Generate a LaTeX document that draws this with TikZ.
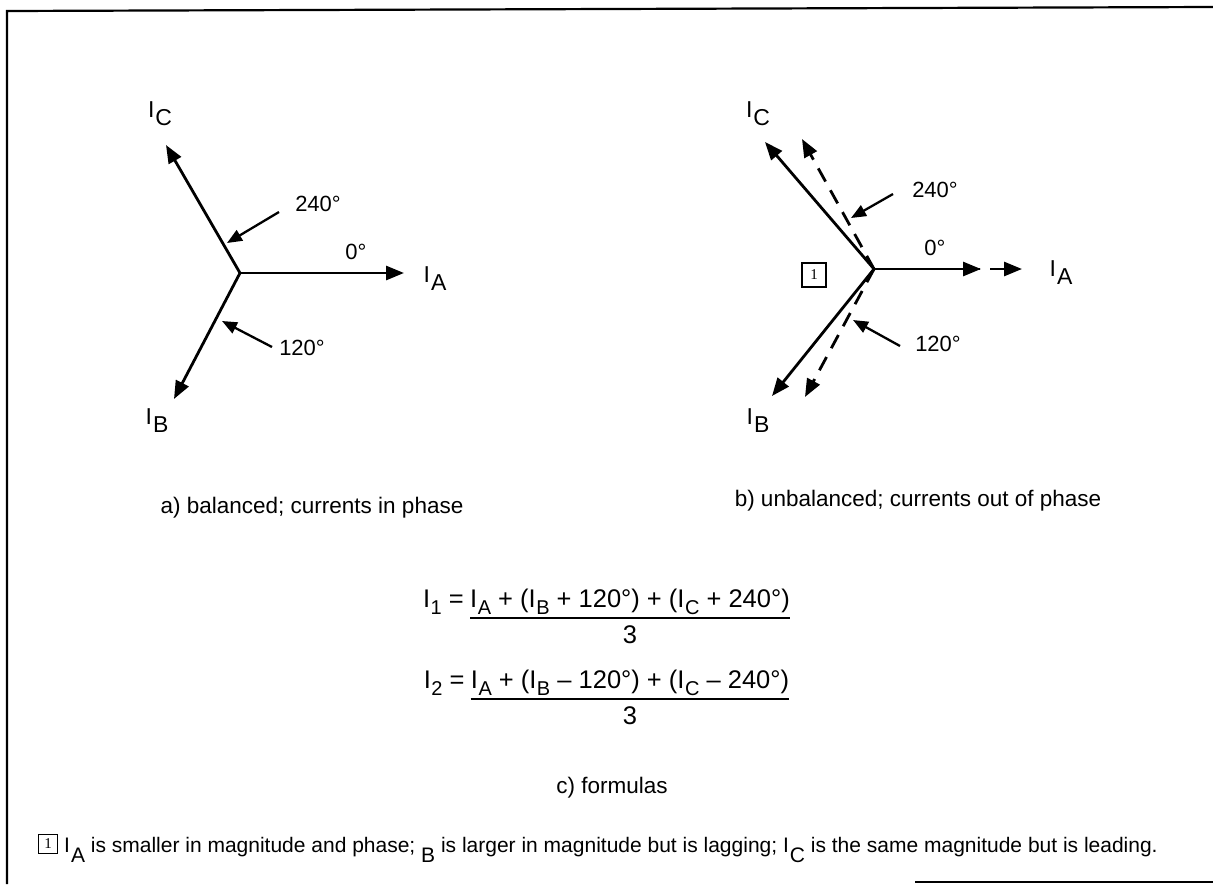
\documentclass[tikz,border=0pt]{standalone}
\usepackage{fontspec}
\setmainfont{Liberation Sans}
\newfontfamily\boxfont{Liberation Serif}
\usetikzlibrary{arrows.meta, calc, positioning}

\newcommand{\Isub}[1]{I\kern1pt\raisebox{-0.35em}{#1}}
\newcommand{\Fsub}[1]{I\kern0.5pt\raisebox{-0.3em}{\fontsize{20}{21}\selectfont #1}}

\begin{document}
\begin{tikzpicture}[x=1pt, y=-1pt,
  every node/.style={inner sep=0pt, font=\fontsize{22}{24}\selectfont},
  phasor/.style={line width=2.8pt, -{Triangle[length=18pt, width=14pt]}},
  ghost/.style={phasor, dash pattern=on 15pt off 10pt},
  pointer/.style={line width=2.3pt, -{Triangle[length=15pt, width=12pt]}},
  phlabel/.style={font=\fontsize{23}{26}\selectfont},
  capt/.style={font=\fontsize{22.5}{25}\selectfont},
  eqn/.style={font=\fontsize{25.5}{28}\selectfont},
  notebox/.style={draw, line width=1.2pt, minimum width=#1, minimum height=#1,
    font=\boxfont\fontsize{15}{16}\selectfont}]
  \useasboundingbox (0,0) rectangle (1213,884);
  % frame
  \draw[line width=2.2pt] (7,884) -- (7,11) -- (1213,7);
  \draw[line width=2.2pt] (915,882) -- (1213,882);

  % a) balanced
  \coordinate (oa) at (240,273);
  \coordinate (aa) at (404,273);
  \coordinate (ab) at (174,399);
  \coordinate (ac) at (166,145);
  \foreach \t in {aa, ab, ac}
    \draw[phasor] (oa) -- (\t);
  \node[phlabel] (la) at (435,279) {\Isub{A}};
  \node[phlabel] (lb) at (157,421) {\Isub{B}};
  \node[phlabel] (lc) at (160,114) {\Isub{C}};
  \node (d0a) at (356,252) {0°};
  \node (d240a) at (318,204) {240°};
  \node (d120a) at (302,348) {120°};
  \coordinate (qca) at (279,212);
  \coordinate (pca) at (227,243);
  \coordinate (qba) at (272,347);
  \coordinate (pba) at (222,321);
  \draw[pointer] (qca) -- (pca);
  \draw[pointer] (qba) -- (pba);
  \node[capt, anchor=base] (capa) at (312,513) {a) balanced; currents in phase};

  % b) unbalanced
  \coordinate (ob) at (874,269);
  \coordinate (ba) at (981,269);
  \coordinate (bb) at (772,396);
  \coordinate (bc) at (765,142);
  \coordinate (ga) at (1022,269);
  \coordinate (gb) at (805,397);
  \coordinate (gc) at (802,139);
  \foreach \t in {ba, bb, bc}
    \draw[phasor] (ob) -- (\t);
  \draw[ghost, dash phase=9pt] (ob) -- (ga);
  \draw[ghost] (ob) -- (gb);
  \draw[ghost] (ob) -- (gc);
  \node[phlabel] (lab) at (1061,273) {\Isub{A}};
  \node[phlabel] (lbb) at (758,421) {\Isub{B}};
  \node[phlabel] (lcb) at (758,114) {\Isub{C}};
  \node (d0b) at (935,248) {0°};
  \node (d240b) at (935,190) {240°};
  \node (d120b) at (938,344) {120°};
  \coordinate (qcb) at (893,194);
  \coordinate (pcb) at (851,218);
  \coordinate (qbb) at (900,346);
  \coordinate (pbb) at (853,320);
  \draw[pointer] (qcb) -- (pcb);
  \draw[pointer] (qbb) -- (pbb);
  \node[notebox=24pt] (n1) at (814,275) {1};
  \node[capt, anchor=base] (capb) at (918,506) {b) unbalanced; currents out of phase};

  % c) formulas
  \node[eqn, anchor=base] (num1) at (630,607)
    {\Fsub{A} + (\Fsub{B} + 120°) + (\Fsub{C} + 240°)};
  \node[eqn, anchor=base east] (eq1) at ([xshift=-6pt]num1.base west) {\Fsub{1} =};
  \draw[line width=1.6pt] ([yshift=-3pt]num1.south west) -- ([yshift=-3pt]num1.south east);
  \node[eqn, below=10pt of num1] (den1) {3};
  \node[eqn, anchor=base] (num2) at (630,688)
    {\Fsub{A} + (\Fsub{B} – 120°) + (\Fsub{C} – 240°)};
  \node[eqn, anchor=base east] (eq2) at ([xshift=-6pt]num2.base west) {\Fsub{2} =};
  \draw[line width=1.6pt] ([yshift=-3pt]num2.south west) -- ([yshift=-3pt]num2.south east);
  \node[eqn, below=10pt of num2] (den2) {3};
  \node[capt] (capc) at (612,788) {c) formulas};

  % note
  \node[notebox=19pt] (n2) at (48,844) {1};
  \node[font=\fontsize{21}{23}\selectfont, anchor=base west] (note) at (64,852)
    {I\kern1pt\raisebox{-0.5em}{A} is smaller in magnitude and phase;
     \raisebox{-0.5em}{B} is larger in magnitude but is lagging;
     I\kern1pt\raisebox{-0.5em}{C} is the same magnitude but is leading.};
\end{tikzpicture}
\end{document}
